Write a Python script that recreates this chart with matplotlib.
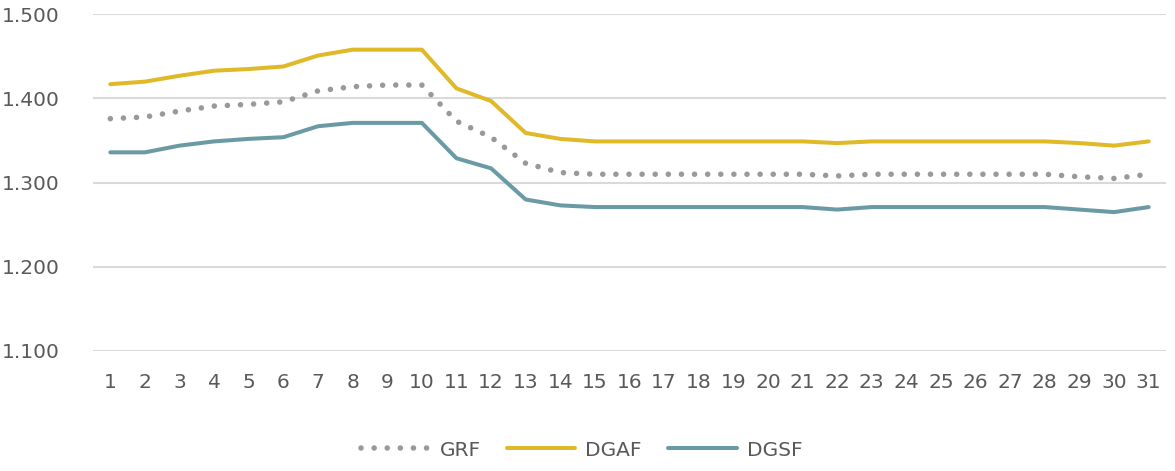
import matplotlib
matplotlib.use("Agg")
import matplotlib.pyplot as plt

days = list(range(1, 32))

grf = [1.376, 1.378, 1.385, 1.391, 1.393, 1.396, 1.409, 1.414, 1.416, 1.416,
       1.373, 1.354, 1.323, 1.312, 1.310, 1.310, 1.310, 1.310, 1.310, 1.310,
       1.310, 1.308, 1.310, 1.310, 1.310, 1.310, 1.310, 1.310, 1.307, 1.305,
       1.310]
dgaf = [1.417, 1.420, 1.427, 1.433, 1.435, 1.438, 1.451, 1.458, 1.458, 1.458,
        1.412, 1.397, 1.359, 1.352, 1.349, 1.349, 1.349, 1.349, 1.349, 1.349,
        1.349, 1.347, 1.349, 1.349, 1.349, 1.349, 1.349, 1.349, 1.347, 1.344,
        1.349]
dgsf = [1.336, 1.336, 1.344, 1.349, 1.352, 1.354, 1.367, 1.371, 1.371, 1.371,
        1.329, 1.317, 1.280, 1.273, 1.271, 1.271, 1.271, 1.271, 1.271, 1.271,
        1.271, 1.268, 1.271, 1.271, 1.271, 1.271, 1.271, 1.271, 1.268, 1.265,
        1.271]

yticks = [1.1, 1.2, 1.3, 1.4, 1.5]
ytick_labels = ["1.100", "1.200", "1.300", "1.400", "1.500"]

text_color = "#595959"
plt.rcParams["font.family"] = ["DejaVu Sans"]

fig = plt.figure(figsize=(11.75, 4.71), dpi=100)
ax = fig.add_axes([93 / 1175, 1 - 351 / 471, (1166 - 93) / 1175, (351 - 14.3) / 471])

ax.plot(days, grf, color="#999999", lw=4.0, linestyle=(0, (0.01, 2.35)),
        dash_capstyle="round", label="GRF", zorder=3)
ax.plot(days, dgaf, color="#E0B929", lw=2.9, solid_capstyle="round",
        solid_joinstyle="round", label="DGAF", zorder=3)
ax.plot(days, dgsf, color="#6A9BA5", lw=2.9, solid_capstyle="round",
        solid_joinstyle="round", label="DGSF", zorder=3)

ax.set_xlim(0.5, 31.5)
ax.set_ylim(1.1, 1.5)
ax.set_xticks(days)
ax.set_xticklabels([str(d) for d in days])
ax.set_yticks(yticks)
ax.set_yticklabels(ytick_labels)
ax.tick_params(axis="both", length=0, labelsize=14.5, colors=text_color)
ax.tick_params(axis="x", pad=16)
ax.tick_params(axis="y", pad=24)
ax.grid(axis="y", color="#d9d9d9", lw=1.5, zorder=0)
for s in ax.spines.values():
    s.set_visible(False)

leg = fig.legend(loc="center", bbox_to_anchor=(0.495, 1 - 450 / 471), ncol=3,
                 frameon=False, fontsize=14.5, handlelength=3.4,
                 handletextpad=0.5, columnspacing=1.3)
for t in leg.get_texts():
    t.set_color(text_color)

fig.savefig("out.png", dpi=100)
